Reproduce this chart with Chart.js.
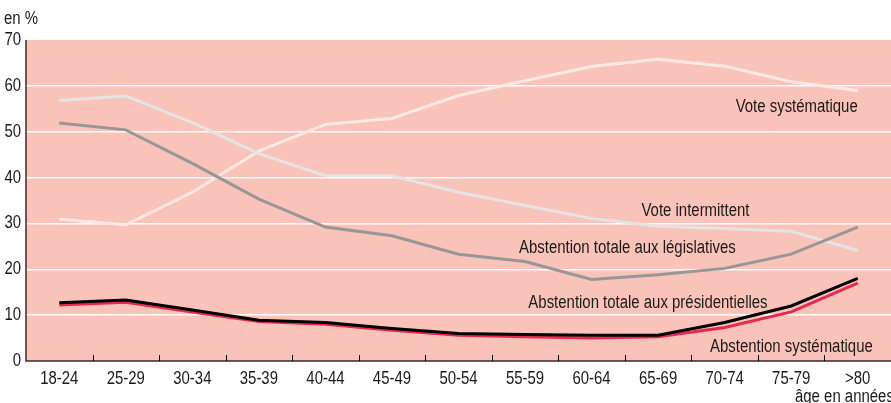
<!DOCTYPE html>
<html>
<head>
<meta charset="utf-8">
<script src="https://cdn.jsdelivr.net/npm/chart.js@4/dist/chart.umd.min.js"></script>
<style>
  html, body { margin: 0; padding: 0; background: #fff; }
  #wrap { width: 891px; height: 403px; position: relative; }
</style>
</head>
<body>
<div id="wrap"><canvas id="voteChart"></canvas></div>
<script>
// pas de police etroite installee : on compresse la Liberation Sans a la main
const FONT = "18px 'Liberation Sans', Arial, sans-serif";
const SQUEEZE = 0.83;

// tranches d'age
const ages = ['18-24', '25-29', '30-34', '35-39', '40-44', '45-49', '50-54', '55-59', '60-64', '65-69', '70-74', '75-79', '>80'];

// valeurs en %
const voteSystematique = [30.9, 29.7, 36.8, 45.8, 51.6, 52.9, 57.9, 61.1, 64.2, 65.8, 64.3, 60.9, 59.0];
const voteIntermittent = [56.8, 57.8, 52.0, 45.2, 40.4, 40.4, 36.8, 33.9, 31.1, 29.4, 28.9, 28.3, 24.1];
const abstLegislatives = [51.9, 50.4, 43.1, 35.3, 29.2, 27.3, 23.3, 21.7, 17.8, 18.8, 20.2, 23.3, 29.2];
const abstPresidentielles = [12.7, 13.3, 11.1, 8.9, 8.4, 7.1, 6.0, 5.8, 5.6, 5.6, 8.4, 12.0, 18.0];
const abstSystematique = [12.2, 12.8, 10.7, 8.6, 8.0, 6.7, 5.6, 5.3, 5.0, 5.3, 7.3, 10.7, 17.0];

const yTicks = [0, 10, 20, 30, 40, 50, 60, 70];

// libelles des courbes (ancres en unites de donnees : index d'age, valeur)
const lineLabels = [
    { text: 'Vote systématique', at: 12, value: 55.4, align: 'right' },
    { text: 'Vote intermittent', at: 8.75, value: 32.7, align: 'left' },
    { text: 'Abstention totale aux législatives', at: 6.91, value: 24.6, align: 'left' },
    { text: 'Abstention totale aux présidentielles', at: 7.05, value: 12.6, align: 'left' },
    { text: 'Abstention systématique', at: 9.78, value: 3.05, align: 'left' }
];

function narrowText(ctx, text, x, y, align, baseline) {
    ctx.save();
    ctx.translate(x, y);
    ctx.scale(SQUEEZE, 1);
    ctx.font = FONT;
    ctx.textAlign = align;
    ctx.textBaseline = baseline;
    ctx.fillText(text, 0, 0);
    ctx.restore();
}

// fond rose, axes, textes
const decor = {
    id: 'decor',
    beforeDraw(chart) {
        const { ctx, chartArea: a } = chart;
        ctx.save();
        ctx.fillStyle = '#f9c3ba';
        ctx.fillRect(a.left, a.top, a.right - a.left, a.bottom - a.top);
        ctx.restore();
    },
    afterDatasetsDraw(chart) {
        const { ctx, chartArea: a, scales } = chart;
        const x = scales.x, y = scales.y;
        const step = x.getPixelForValue(1) - x.getPixelForValue(0);
        ctx.save();
        // axes
        ctx.strokeStyle = '#3a2a2a';
        ctx.lineWidth = 1.5;
        ctx.beginPath();
        ctx.moveTo(a.left, a.top);
        ctx.lineTo(a.left, a.bottom);
        ctx.lineTo(a.right, a.bottom);
        ctx.stroke();
        // traits entre les tranches
        ctx.strokeStyle = '#000';
        ctx.lineWidth = 1;
        for (let i = 0; i < ages.length - 1; i++) {
            const px = Math.round(x.getPixelForValue(i) + step / 2) + 0.5;
            ctx.beginPath();
            ctx.moveTo(px, a.bottom);
            ctx.lineTo(px, a.bottom - 6);
            ctx.stroke();
        }
        ctx.fillStyle = '#1a1a1a';
        // graduations
        ages.forEach((lab, i) => narrowText(ctx, lab, x.getPixelForValue(i), a.bottom + 18, 'center', 'middle'));
        yTicks.forEach(v => narrowText(ctx, String(v), a.left - 5, y.getPixelForValue(v), 'right', 'middle'));
        // libelles des courbes
        lineLabels.forEach(l => {
            narrowText(ctx, l.text, x.getPixelForValue(l.at), y.getPixelForValue(l.value), l.align, 'middle');
        });
        // titres d'axes
        narrowText(ctx, 'en %', 4, 24, 'left', 'alphabetic');
        narrowText(ctx, 'âge en années', 795, 402, 'left', 'alphabetic');
        ctx.restore();
    }
};

function line(label, data, color, width) {
    return {
        label: label,
        data: data,
        borderColor: color,
        borderWidth: width,
        pointRadius: 0,
        fill: false,
        tension: 0
    };
}

new Chart(document.getElementById('voteChart'), {
    type: 'line',
    data: {
        labels: ages,
        datasets: [
            line('Abstention totale aux présidentielles', abstPresidentielles, '#000000', 3),
            line('Abstention systématique', abstSystematique, '#e8294f', 3),
            line('Abstention totale aux législatives', abstLegislatives, '#979797', 3),
            line('Vote intermittent', voteIntermittent, '#e4e4e4', 3),
            line('Vote systématique', voteSystematique, '#fce9e5', 3)
        ]
    },
    options: {
        responsive: true,
        maintainAspectRatio: false,
        animation: false,
        layout: { padding: { top: 40, right: 0, left: 0, bottom: 0 } },
        plugins: {
            legend: { display: false },
            tooltip: { enabled: false }
        },
        scales: {
            x: {
                offset: true,
                grid: { display: false },
                border: { display: false },
                ticks: { display: false },
                afterFit(scale) { scale.height = 42; }
            },
            y: {
                min: 0,
                max: 70,
                grid: {
                    color: ctx => (ctx.tick.value === 0 || ctx.tick.value === 70) ? 'rgba(0,0,0,0)' : '#ffffff',
                    lineWidth: 1.5,
                    drawTicks: false
                },
                border: { display: false },
                afterBuildTicks(scale) { scale.ticks = yTicks.map(v => ({ value: v })); },
                ticks: { display: false },
                afterFit(scale) { scale.width = 26; }
            }
        }
    },
    plugins: [decor]
});
</script>
</body>
</html>
